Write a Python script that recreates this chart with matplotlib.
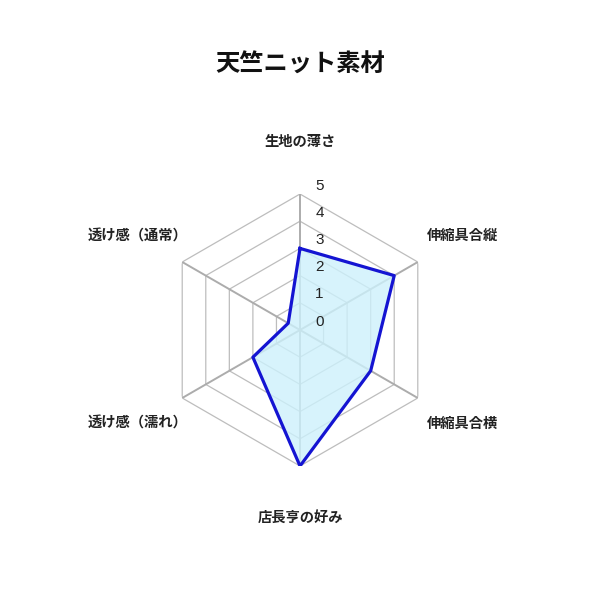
import matplotlib
matplotlib.use("Agg")
import matplotlib.pyplot as plt
import numpy as np

plt.rcParams["font.family"] = ["Noto Sans CJK JP", "DejaVu Sans"]

title = "天竺ニット素材"
categories = ["生地の薄さ", "伸縮具合縦", "伸縮具合横", "店長亨の好み", "透け感（濡れ）", "透け感（通常）"]
values = [3, 4, 3, 5, 2, 0.5]
ticks = [0, 1, 2, 3, 4, 5]

line_color = "#1414d2"
fill_color = "#cdf1fc"

fig = plt.figure(figsize=(6, 6), dpi=100)
r_px = 136 / 600
ax = fig.add_axes([0.5 - r_px, 0.45 - r_px, 2 * r_px, 2 * r_px], projection="polar")
ax.set_theta_offset(np.pi / 2)
ax.set_theta_direction(-1)
ax.set_ylim(0, max(ticks))
ax.grid(False)
ax.spines["polar"].set_visible(False)
ax.set_xticks([])
ax.set_yticks([])
ax.patch.set_alpha(0)

n = len(categories)
angles = np.linspace(0, 2 * np.pi, n, endpoint=False)
closed = np.append(angles, angles[0])

# hexagon rings
for t in ticks[1:]:
    ax.plot(closed, [t] * (n + 1), color="#bdbdbd", lw=0.9, zorder=1)

# spokes
for a in angles:
    ax.plot([a, a], [0, max(ticks)], color="#acacac", lw=1.4, zorder=1)

# data polygon
vals = values + values[:1]
ax.fill(closed, vals, color=fill_color, alpha=0.8, zorder=2, lw=0)
ax.plot(closed, vals, color=line_color, lw=2.3, zorder=3)

# tick labels
for t in ticks:
    ax.annotate(str(t), xy=(0, t), xytext=(14, 6), textcoords="offset points",
                ha="center", va="center", fontsize=11, color="#222222",
                family=["Liberation Sans", "DejaVu Sans"],
                annotation_clip=False, zorder=4)

# category labels
for a, lab in zip(angles, categories):
    ax.text(a, max(ticks) * 1.38, lab, ha="center", va="center",
            fontsize=10.3, fontweight="bold", color="#222222")

fig.text(0.5, 1 - 65 / 600, title, ha="center", va="center",
         fontsize=17.5, fontweight="bold", color="#111111")

fig.savefig("out.png", dpi=100, facecolor="white")
